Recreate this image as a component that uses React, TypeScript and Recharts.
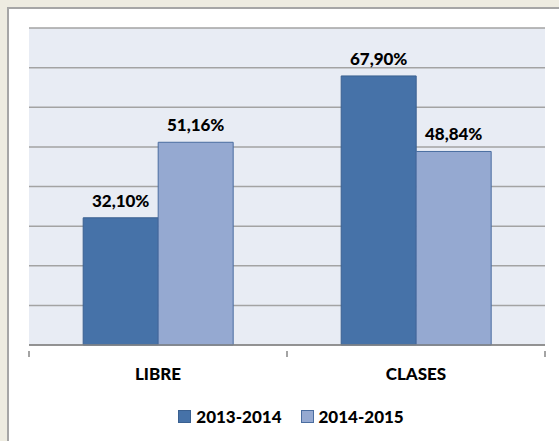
import React from 'react';
import { BarChart, Bar, XAxis, YAxis, CartesianGrid, Legend, LabelList } from 'recharts';

const categories = ['LIBRE', 'CLASES'];
const series2013 = [32.1, 67.9];
const series2014 = [51.16, 48.84];
const yTicks = [0, 10, 20, 30, 40, 50, 60, 70, 80];

const seriesNames = ['2013-2014', '2014-2015'];
const colors = ['#4672A8', '#95A9D1'];
const borders = ['#3A6090', '#4A6DA0'];

const data = categories.map((c, i) => ({
  name: c,
  a: series2013[i],
  b: series2014[i],
}));

const FONT = 'Lato, "Open Sans", sans-serif';
const AXIS = '#868686';

const fmt = (v: any) => Number(v).toFixed(2).replace('.', ',') + '%';

// category label plus tick marks on the band edges (Excel style)
function CatTick(props: any) {
  const { x, y, payload, index } = props;
  const half = payload && payload.offset ? payload.offset : 0;
  const last = index === categories.length - 1;
  return (
    <g>
      <line x1={x - half} x2={x - half} y1={y - 17} y2={y - 11} stroke={AXIS} strokeWidth={1.5} />
      {last && <line x1={x + half} x2={x + half} y1={y - 17} y2={y - 11} stroke={AXIS} strokeWidth={1.5} />}
      <text x={x} y={y} dy="0.71em" textAnchor="middle" fill="#000"
        style={{ fontFamily: FONT, fontWeight: 900, fontSize: 17 }}>{payload.value}</text>
    </g>
  );
}

function LegendBox() {
  return (
    <div style={{ display: 'flex', justifyContent: 'center', alignItems: 'center', height: 30, paddingLeft: 8 }}>
      {seriesNames.map((n, i) => (
        <div key={n} style={{ display: 'flex', alignItems: 'center', marginRight: i === 0 ? 19 : 0 }}>
          <span style={{
            width: 11, height: 11, background: colors[i], border: `1px solid ${borders[i]}`,
            display: 'inline-block', marginRight: 5,
          }} />
          <span style={{ fontFamily: FONT, fontWeight: 900, fontSize: 17, color: '#000' }}>{n}</span>
        </div>
      ))}
    </div>
  );
}

export default function App() {
  return (
    <div style={{ position: 'fixed', left: 0, top: 0, width: 559, height: 441, background: '#EEECE1', overflow: 'hidden' }}>
      <div style={{
        position: 'absolute', left: 7, top: 7, width: 560, height: 440,
        background: '#FFFFFF', borderLeft: '2px solid #A6A6A6', borderTop: '2px solid #A6A6A6',
      }} />
      <div style={{ position: 'absolute', left: 0, top: 0 }}>
        <BarChart
          width={559}
          height={441}
          data={data}
          margin={{ top: 28, right: 14, bottom: 10, left: 29 }}
          barCategoryGap="21%"
          barGap={0}
        >
          <CartesianGrid
            vertical={false}
            stroke="#A3A3A3"
            strokeWidth={1.5}
            fill="#E8ECF4"
          />
          <YAxis hide domain={[0, 80]} ticks={yTicks} />
          <XAxis
            dataKey="name"
            height={56}
            axisLine={{ stroke: AXIS, strokeWidth: 1.5 }}
            tickLine={false}
            tickMargin={17}
            tick={<CatTick />}
          />
          <Legend verticalAlign="bottom" content={() => <LegendBox />} />
          <Bar dataKey="a" name={seriesNames[0]} fill={colors[0]} stroke={borders[0]} strokeWidth={1} isAnimationActive={false}>
            <LabelList dataKey="a" position="top" offset={11} formatter={fmt}
              style={{ fill: '#000', fontFamily: FONT, fontWeight: 900, fontSize: 17 }} />
          </Bar>
          <Bar dataKey="b" name={seriesNames[1]} fill={colors[1]} stroke={borders[1]} strokeWidth={1} isAnimationActive={false}>
            <LabelList dataKey="b" position="top" offset={11} formatter={fmt}
              style={{ fill: '#000', fontFamily: FONT, fontWeight: 900, fontSize: 17 }} />
          </Bar>
        </BarChart>
      </div>
    </div>
  );
}
